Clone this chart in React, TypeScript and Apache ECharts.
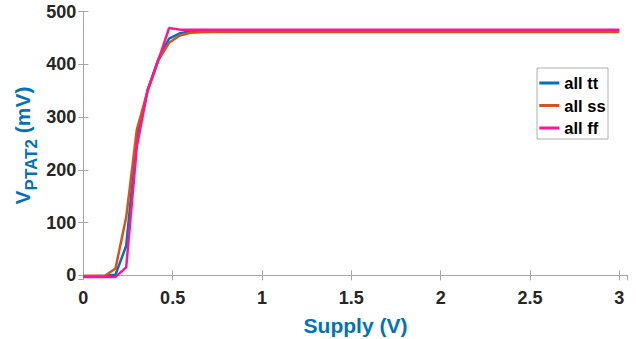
import React, { useEffect, useRef } from "react";
import * as echarts from "echarts";

const supply = [0, 0.06, 0.12, 0.18, 0.24, 0.3, 0.36, 0.42, 0.48, 0.54, 0.6, 0.66, 0.72, 0.78, 0.84, 1.0, 1.5, 2.0, 2.5, 3.0];
const allTT = [-2, -2, -1, 1, 56, 262, 351, 410, 449, 459, 463, 464, 464, 464, 464, 464, 464, 464, 464, 464];
const allSS = [-1, -1, -1.5, 13, 110, 277, 350, 408, 441, 455, 460, 461, 461.5, 461.5, 461.5, 461.5, 461.5, 461.5, 461.5, 461.5];
const allFF = [-3, -3, -3, -3, 15, 245, 351, 408, 469, 466, 466, 466, 466, 466, 466, 466, 466, 466, 466, 466];
const seriesNames = ["all tt", "all ss", "all ff"];
const seriesColors = ["#0072BD", "#D95319", "#FF1493"];

const FONT = "'Liberation Sans', Arial, sans-serif";
const AXIS_GRAY = "#a6a6a6";

export default function App() {
  const ref = useRef<HTMLDivElement>(null);
  useEffect(() => {
    if (!ref.current) return;
    const chart = echarts.init(ref.current, null, { renderer: "svg" });
    const datasets = [allTT, allSS, allFF];
    const axisCommon = {
      axisLine: { show: true, lineStyle: { color: AXIS_GRAY, width: 1 } },
      axisTick: { show: true, inside: true, length: 5, lineStyle: { color: AXIS_GRAY } },
      splitLine: { show: false },
    };
    chart.setOption({
      animation: false,
      backgroundColor: "#ffffff",
      grid: { left: 83.3, right: 8.3, top: 11.7, bottom: 60, containLabel: false, outerBoundsMode: "none" },
      legend: {
        data: seriesNames,
        orient: "vertical",
        right: 28,
        top: 68,
        itemWidth: 20,
        itemHeight: 3,
        itemGap: 5.5,
        icon: "rect",
        padding: [6.5, 2.4, 2.5, 2.3],
        backgroundColor: "#ffffff",
        borderColor: "#b0b0b0",
        borderWidth: 1,
        borderRadius: 0,
        textStyle: { fontFamily: FONT, fontWeight: "bold", fontSize: 16.5, color: "#000000", lineHeight: 17 },
      },
      graphic: [
        {
          type: "text",
          x: 22.5,
          y: 145.5,
          rotation: Math.PI / 2,
          style: {
            text: "{a|V}{b|PTAT2}{a| (mV)}",
            align: "center",
            verticalAlign: "middle",
            fill: "#0072BD",
            font: `bold 20px ${FONT}`,
            rich: {
              a: { fontFamily: FONT, fontWeight: "bold", fontSize: 21, fill: "#0072BD", verticalAlign: "top", lineHeight: 22 },
              b: { fontFamily: FONT, fontWeight: "bold", fontSize: 17, fill: "#0072BD", verticalAlign: "top", lineHeight: 22, padding: [11, 0, 0, 0] },
            },
          },
        },
      ],
      xAxis: [
        {
          type: "value",
          min: 0,
          max: 3.047,
          interval: 0.5,
          ...axisCommon,
          axisLabel: {
            show: true,
            showMaxLabel: false,
            margin: 10,
            fontFamily: FONT,
            fontWeight: "bold",
            fontSize: 18,
            color: "#262626",
            formatter: (v: number) => String(v),
          },
          name: "Supply (V)",
          nameLocation: "middle",
          nameGap: 36,
          nameTextStyle: { fontFamily: FONT, fontWeight: "bold", fontSize: 21, color: "#0072BD" },
        },
        {
          type: "value",
          position: "top",
          min: 0,
          max: 3.047,
          interval: 0.5,
          ...axisCommon,
          axisLabel: { show: false },
        },
      ],
      yAxis: [
        {
          type: "value",
          min: -7,
          max: 500,
          splitNumber: 5,
          ...axisCommon,
          axisLabel: {
            show: true,
            showMinLabel: false,
            margin: 7,
            fontFamily: FONT,
            fontWeight: "bold",
            fontSize: 18,
            color: "#262626",
          },
        },
        {
          type: "value",
          position: "right",
          min: -7,
          max: 500,
          splitNumber: 5,
          ...axisCommon,
          axisLabel: { show: false },
        },
      ],
      series: seriesNames.map((name, i) => ({
        name,
        type: "line",
        xAxisIndex: 0,
        yAxisIndex: 0,
        symbol: "none",
        showSymbol: false,
        data: supply.map((x, k) => [x, datasets[i][k]]),
        lineStyle: { color: seriesColors[i], width: 2.5 },
        itemStyle: { color: seriesColors[i] },
        z: 2 + i,
      })),
    });
    return () => chart.dispose();
  }, []);
  return <div ref={ref} style={{ position: "fixed", left: 0, top: 0, width: 636, height: 339 }} />;
}
